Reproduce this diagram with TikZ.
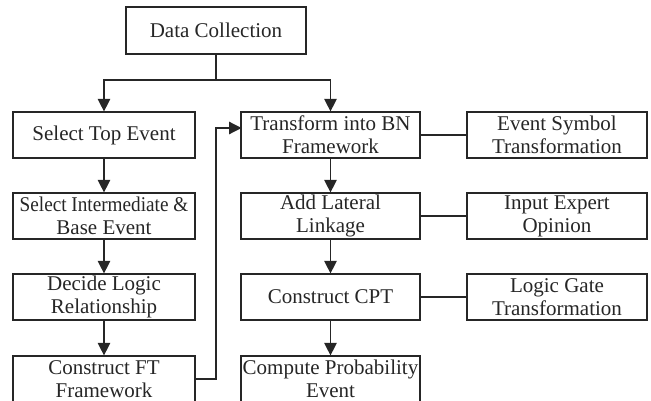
\documentclass[tikz,border=0pt]{standalone}
\usepackage{fontspec}
\setmainfont{Liberation Serif}
\usetikzlibrary{arrows.meta}
\begin{document}
\begin{tikzpicture}[x=1pt,y=-1pt,
  box/.style={draw=black!85, line width=1.2pt, rectangle, minimum height=46pt,
    inner sep=0pt, align=center, font=\fontsize{21}{23}\selectfont, text=black!85},
  wl/.style={box, minimum width=182pt},
  wr/.style={box, minimum width=179pt},
  ws/.style={box, minimum width=180pt},
  conn/.style={draw=black!85, line width=1.2pt},
  arr/.style={conn, -{Triangle[length=12.5pt,width=12.5pt]}}]
\useasboundingbox (0,0) rectangle (651,401);
\clip (0,0) rectangle (651,401);

% top node
\node[box, minimum width=180pt, minimum height=47pt] (dc) at (216,30.5) {Data Collection};

% fault tree column
\node[wl] (ste) at (104,135) {Select Top Event};
\node[wl] (sib) at (104,216) {\scalebox{0.915}[1]{Select Intermediate \&}\\Base Event};
\node[wl] (dlr) at (104,297) {Decide Logic\\Relationship};
\node[wl] (cft) at (104,379) {Construct FT\\Framework};

% Bayesian network column
\node[wr] (tbn) at (330.5,135) {Transform into BN\\Framework};
\node[wr] (alk) at (330.5,216) {Add Lateral\\Linkage};
\node[wr] (cpt) at (330.5,297) {Construct CPT};
\node[wr] (cpe) at (330.5,379) {Compute Probability\\Event};

% side notes
\node[ws] (est) at (557,135) {Event Symbol\\Transformation};
\node[ws] (ieo) at (557,216) {Input Expert\\Opinion};
\node[ws] (lgt) at (557,297) {Logic Gate\\Transformation};

% branching from data collection
\coordinate (split) at (216,80);
\draw[conn] (dc.south) -- (split);
\draw[arr] (split) -| (ste.north);
\draw[arr] (split) -| (tbn.north);

% vertical flows
\draw[arr] (ste) -- (sib);
\draw[arr] (sib) -- (dlr);
\draw[arr] (dlr) -- (cft);
\draw[arr] (tbn) -- (alk);
\draw[arr] (alk) -- (cpt);
\draw[arr] (cpt) -- (cpe);

% fault tree handed over to the BN column
\coordinate (fto) at (195,379);
\coordinate (ftup) at (216,128);
\coordinate (bnin) at (241.5,128);
\draw[arr] (fto) -| (ftup) -- (bnin);

% side links
\draw[conn] (tbn) -- (est);
\draw[conn] (alk) -- (ieo);
\draw[conn] (cpt) -- (lgt);
\end{tikzpicture}
\end{document}
